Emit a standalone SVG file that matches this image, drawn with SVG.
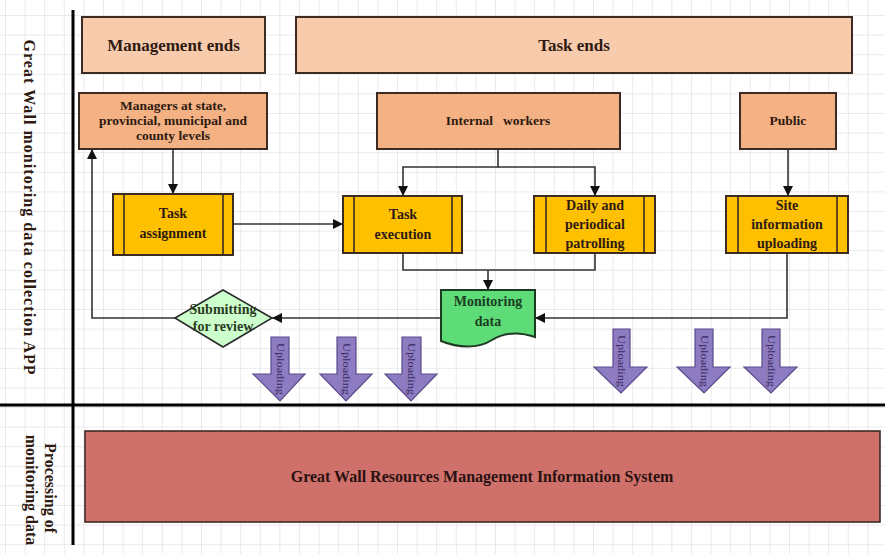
<svg xmlns="http://www.w3.org/2000/svg" width="885" height="554" viewBox="0 0 885 554">
<style>
.t{font-family:"Liberation Serif","DejaVu Serif",serif;font-weight:bold;fill:#2e1a10;text-anchor:middle}
.box{stroke:#3b2b22;stroke-width:2}
.end{fill:#f8cbad}
.role{fill:#f4b183}
.proc{fill:#ffc000}
.inner{stroke:#3b2b22;stroke-width:1.6;fill:none}
.c{fill:none;stroke:#333;stroke-width:1.6}
.up{fill:#8e7cc3;stroke:#5b4a8a;stroke-width:1.2}
.ut{font-family:"Liberation Serif",serif;font-size:10px;fill:#3a2a60;text-anchor:middle}
.lane{stroke:#000;stroke-width:3}
</style>
<defs>
<pattern id="grid" width="19.6" height="19.6" patternUnits="userSpaceOnUse" x="5" y="15">
<path d="M0,0 H19.6 M0,0 V19.6" fill="none" stroke="#d6d6d6" stroke-width="1"/>
</pattern>
<marker id="ah2" viewBox="0 0 10 10" refX="10" refY="5" markerWidth="10" markerHeight="10" orient="auto" markerUnits="userSpaceOnUse">
<path d="M0,0 L10,5 L0,10 Z" fill="#111"/>
</marker>
</defs>
<rect width="885" height="554" fill="#fff"/>
<rect width="885" height="554" fill="url(#grid)"/>

<g id="lanes">
<line class="lane" x1="73" y1="10" x2="73" y2="545"/>
<line class="lane" x1="0" y1="405" x2="885" y2="405"/>
<text class="t" font-size="16" transform="translate(24,207) rotate(90)" textLength="335" lengthAdjust="spacing">Great Wall monitoring data collection APP</text>
<text class="t" font-size="16" transform="translate(45,488) rotate(90)">Processing of</text>
<text class="t" font-size="16" transform="translate(26,490) rotate(90)">monitoring data</text>
</g>

<g id="connectors">
<path class="c" d="M173,149 V194" marker-end="url(#ah2)"/>
<path class="c" d="M233,224 H343" marker-end="url(#ah2)"/>
<path class="c" d="M498,149 V167 H403 V196" marker-end="url(#ah2)"/>
<path class="c" d="M498,167 H595 V196" marker-end="url(#ah2)"/>
<path class="c" d="M788,149 V196" marker-end="url(#ah2)"/>
<path class="c" d="M403,253 V270 H595 V253"/>
<path class="c" d="M488,270 V290" marker-end="url(#ah2)"/>
<path class="c" d="M787,253 V318 H535" marker-end="url(#ah2)"/>
<path class="c" d="M441,318 H272" marker-end="url(#ah2)"/>
<path class="c" d="M175,318 H92 V149" marker-end="url(#ah2)"/>
</g>

<g id="management-ends">
<rect class="box end" x="82" y="17" width="183" height="56"/>
<text class="t" font-size="17" x="173.5" y="51">Management ends</text>
</g>
<g id="task-ends">
<rect class="box end" x="296" y="17" width="556" height="56"/>
<text class="t" font-size="17" x="574" y="51">Task ends</text>
</g>
<g id="managers">
<rect class="box role" x="79" y="93" width="188" height="56"/>
<text class="t" font-size="13.5" x="173" y="110">Managers at state,</text>
<text class="t" font-size="13.5" x="173" y="125">provincial, municipal and</text>
<text class="t" font-size="13.5" x="173" y="140">county levels</text>
</g>
<g id="internal-workers">
<rect class="box role" x="377" y="93" width="243" height="56"/>
<text class="t" font-size="13.5" x="498" y="125" xml:space="preserve">Internal   workers</text>
</g>
<g id="public">
<rect class="box role" x="740" y="93" width="96" height="56"/>
<text class="t" font-size="13.5" x="788" y="125">Public</text>
</g>

<g id="task-assignment">
<rect class="box proc" x="113" y="194" width="120" height="61"/>
<path class="inner" d="M124,194 V255 M223,194 V255"/>
<text class="t" font-size="14" x="173" y="218">Task</text>
<text class="t" font-size="14" x="173" y="238">assignment</text>
</g>
<g id="task-execution">
<rect class="box proc" x="343" y="196" width="119" height="57"/>
<path class="inner" d="M354,196 V253 M452,196 V253"/>
<text class="t" font-size="14" x="403" y="219">Task</text>
<text class="t" font-size="14" x="403" y="239">execution</text>
</g>
<g id="daily-patrolling">
<rect class="box proc" x="534" y="196" width="121" height="57"/>
<path class="inner" d="M546,196 V253 M644,196 V253"/>
<text class="t" font-size="14" x="595" y="210">Daily and</text>
<text class="t" font-size="14" x="595" y="229">periodical</text>
<text class="t" font-size="14" x="595" y="248">patrolling</text>
</g>
<g id="site-uploading">
<rect class="box proc" x="726" y="196" width="122" height="57"/>
<path class="inner" d="M738,196 V253 M837,196 V253"/>
<text class="t" font-size="14" x="787" y="210">Site</text>
<text class="t" font-size="14" x="787" y="229">information</text>
<text class="t" font-size="14" x="787" y="248">uploading</text>
</g>

<g id="monitoring-data">
<path d="M441,290 H535 V337 C520,332 505,332 492,340 C478,349 458,348 441,341 Z" fill="#5ddc78" stroke="#1e3a22" stroke-width="2"/>
<text class="t" font-size="14" x="488" y="306" style="fill:#1b3d22">Monitoring</text>
<text class="t" font-size="14" x="488" y="326" style="fill:#1b3d22">data</text>
</g>

<g id="submitting-review">
<path d="M223,290 L272,318 L223,347 L175,318 Z" fill="#ccffcc" stroke="#2a2a2a" stroke-width="1.6"/>
<text class="t" font-size="14" x="223" y="314" style="fill:#2c3a22">Submitting</text>
<text class="t" font-size="14" x="223" y="331" style="fill:#2c3a22">for review</text>
</g>

<g id="uploads">
<path class="up" d="M271,337 H289 V374 H305 L280,401 L253,374 H271 Z"/>
<text class="ut" transform="translate(276.5,369) rotate(90)" textLength="52" lengthAdjust="spacingAndGlyphs">Uploading</text>
<path class="up" d="M337,337 H356 V374 H372 L346,401 L320,374 H337 Z"/>
<text class="ut" transform="translate(343,369) rotate(90)" textLength="52" lengthAdjust="spacingAndGlyphs">Uploading</text>
<path class="up" d="M402,337 H421 V374 H437 L411,401 L385,374 H402 Z"/>
<text class="ut" transform="translate(408,369) rotate(90)" textLength="52" lengthAdjust="spacingAndGlyphs">Uploading</text>
<path class="up" d="M613,329 H630 V367 H647 L621,393 L594,367 H613 Z"/>
<text class="ut" transform="translate(618,361) rotate(90)" textLength="52" lengthAdjust="spacingAndGlyphs">Uploading</text>
<path class="up" d="M695,329 H713 V367 H730 L704,393 L677,367 H695 Z"/>
<text class="ut" transform="translate(700.5,361) rotate(90)" textLength="52" lengthAdjust="spacingAndGlyphs">Uploading</text>
<path class="up" d="M762,329 H780 V367 H797 L771,393 L744,367 H762 Z"/>
<text class="ut" transform="translate(767.5,361) rotate(90)" textLength="52" lengthAdjust="spacingAndGlyphs">Uploading</text>
</g>

<g id="gw-system">
<rect x="85" y="431" width="795" height="91" fill="#cf706b" stroke="#3b2b22" stroke-width="1.6"/>
<text class="t" font-size="16" x="482" y="482" style="fill:#2a1210">Great Wall Resources Management Information System</text>
</g>
</svg>
